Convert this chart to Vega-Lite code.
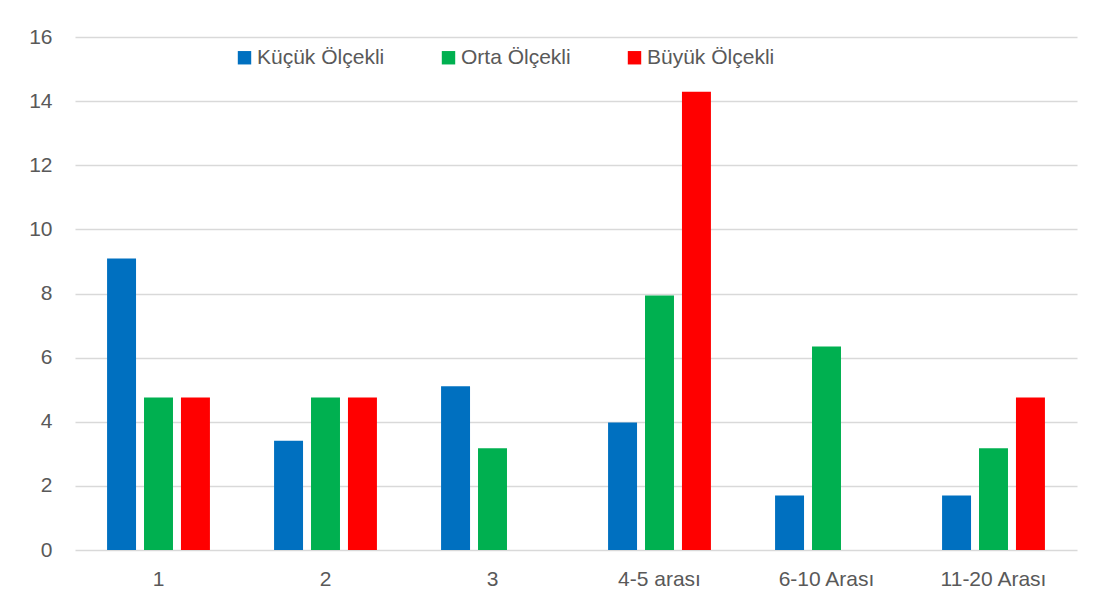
{
  "$schema": "https://vega.github.io/schema/vega-lite/v6.json",
  "autosize": "none",
  "width": 1002,
  "height": 513,
  "padding": {"left": 75, "top": 37, "right": 34, "bottom": 65},
  "background": "white",
  "config": {
    "view": {"stroke": null},
    "font": "Liberation Sans",
    "axis": {"labelFont": "Liberation Sans", "labelColor": "#595959", "labelFontSize": 21, "domain": false, "ticks": false, "gridColor": "#d9d9d9", "gridWidth": 1.3, "title": null},
    "legend": {"labelFont": "Liberation Sans", "labelColor": "#595959", "labelFontSize": 21}
  },
  "data": {
    "values": [
      {"grup": "1", "olcek": "Küçük Ölçekli", "deger": 9.09},
      {"grup": "1", "olcek": "Orta Ölçekli", "deger": 4.76},
      {"grup": "1", "olcek": "Büyük Ölçekli", "deger": 4.76},
      {"grup": "2", "olcek": "Küçük Ölçekli", "deger": 3.41},
      {"grup": "2", "olcek": "Orta Ölçekli", "deger": 4.76},
      {"grup": "2", "olcek": "Büyük Ölçekli", "deger": 4.76},
      {"grup": "3", "olcek": "Küçük Ölçekli", "deger": 5.11},
      {"grup": "3", "olcek": "Orta Ölçekli", "deger": 3.17},
      {"grup": "4-5 arası", "olcek": "Küçük Ölçekli", "deger": 3.98},
      {"grup": "4-5 arası", "olcek": "Orta Ölçekli", "deger": 7.94},
      {"grup": "4-5 arası", "olcek": "Büyük Ölçekli", "deger": 14.29},
      {"grup": "6-10 Arası", "olcek": "Küçük Ölçekli", "deger": 1.7},
      {"grup": "6-10 Arası", "olcek": "Orta Ölçekli", "deger": 6.35},
      {"grup": "11-20 Arası", "olcek": "Küçük Ölçekli", "deger": 1.7},
      {"grup": "11-20 Arası", "olcek": "Orta Ölçekli", "deger": 3.17},
      {"grup": "11-20 Arası", "olcek": "Büyük Ölçekli", "deger": 4.76}
    ]
  },
  "mark": {"type": "bar"},
  "encoding": {
    "x": {
      "field": "grup", "type": "nominal",
      "sort": ["1", "2", "3", "4-5 arası", "6-10 Arası", "11-20 Arası"],
      "scale": {"paddingInner": 0.384, "paddingOuter": 0.192},
      "axis": {"labelAngle": 0, "labelPadding": 18, "grid": false}
    },
    "xOffset": {
      "field": "olcek", "type": "nominal",
      "sort": ["Küçük Ölçekli", "Orta Ölçekli", "Büyük Ölçekli"],
      "scale": {"paddingInner": 0.216, "paddingOuter": 0}
    },
    "y": {
      "field": "deger", "type": "quantitative",
      "scale": {"domain": [0, 16], "nice": false},
      "axis": {"values": [0, 2, 4, 6, 8, 10, 12, 14, 16], "labelPadding": 23, "grid": true}
    },
    "color": {
      "field": "olcek", "type": "nominal",
      "sort": ["Küçük Ölçekli", "Orta Ölçekli", "Büyük Ölçekli"],
      "scale": {"domain": ["Küçük Ölçekli", "Orta Ölçekli", "Büyük Ölçekli"], "range": ["#0070C0", "#00B050", "#FF0000"]},
      "legend": {
        "title": null, "orient": "none", "direction": "horizontal",
        "legendX": 159, "legendY": 10,
        "symbolType": "square", "symbolSize": 180, "symbolStrokeWidth": 0,
        "labelOffset": 2, "columnPadding": 53
      }
    }
  }
}
